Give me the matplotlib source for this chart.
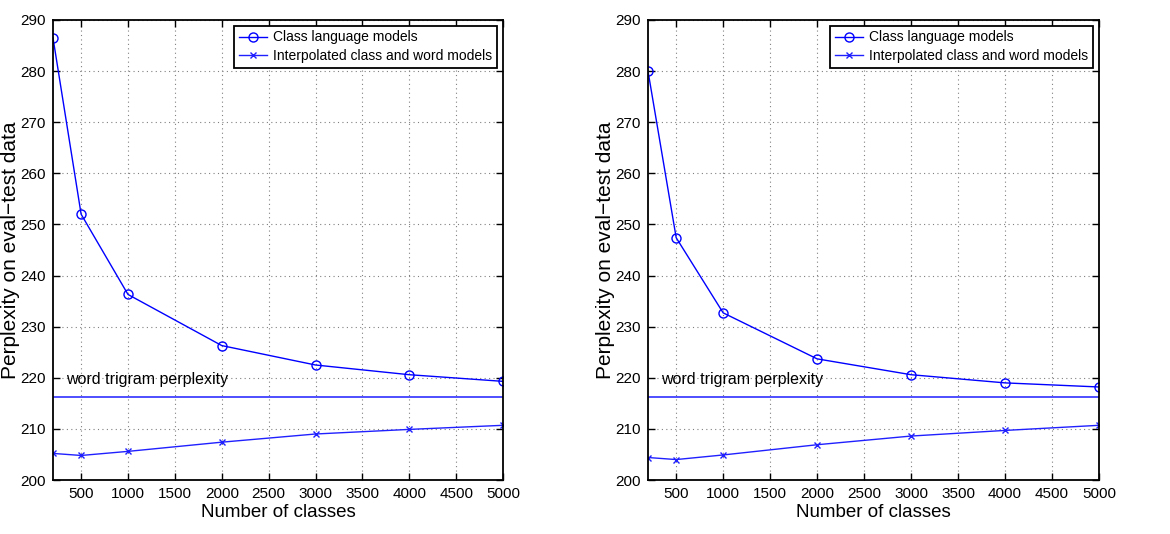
import matplotlib
matplotlib.use("Agg")
import matplotlib.pyplot as plt

plt.rcParams['font.family'] = ['Liberation Sans', 'DejaVu Sans']

classes = [200, 500, 1000, 2000, 3000, 4000, 5000]
class_lm_left = [286.5, 252.0, 236.3, 226.3, 222.5, 220.6, 219.3]
interp_left = [205.2, 204.8, 205.6, 207.4, 209.0, 209.9, 210.7]
class_lm_right = [280.0, 247.4, 232.7, 223.7, 220.6, 219.0, 218.2]
interp_right = [204.4, 204.0, 204.9, 206.9, 208.6, 209.7, 210.7]
trigram = [216.2, 216.2]

xticks = [500, 1000, 1500, 2000, 2500, 3000, 3500, 4000, 4500, 5000]
yticks = [200, 210, 220, 230, 240, 250, 260, 270, 280, 290]

fig = plt.figure(figsize=(11.7, 5.34), dpi=100)
ax1 = fig.add_axes([53/1170, 1 - 480/534, 450/1170, 460/534])
ax2 = fig.add_axes([648/1170, 1 - 480/534, 451/1170, 460/534])

for ax, cl, ip, tri in [(ax1, class_lm_left, interp_left, trigram),
                        (ax2, class_lm_right, interp_right, trigram)]:
    ax.plot(classes, cl, color="#0000ff", lw=1, marker="o", ms=6.5,
            mfc="none", mec="#0000ff", label="Class language models")
    ax.plot(classes, ip, color="#2020ff", lw=1, marker="x", ms=4.5,
            label="Interpolated class and word models")
    ax.plot([200, 5000], tri, color="#3030ff", lw=1.2)
    ax.text(340, 219.7, "word trigram perplexity", fontsize=11.5, va="center")
    ax.set_xlim(200, 5000)
    ax.set_ylim(200, 290)
    ax.set_xticks(xticks)
    ax.set_yticks(yticks)
    ax.grid(True, color="#808080", linestyle=(0, (1, 3)), lw=0.8)
    ax.tick_params(direction="in", labelsize=11, length=5, top=True, right=True,
                   width=1, pad=5)
    for s in ax.spines.values():
        s.set_linewidth(1.3)
    ax.set_xlabel("Number of classes", fontsize=13.5, labelpad=2)
    ax.set_ylabel("Perplexity on eval\u2212test data", fontsize=15)
    ax.yaxis.set_label_coords(-0.073, 0.5)
    leg = ax.legend(loc="upper right", fontsize=10, fancybox=False,
                    framealpha=1, edgecolor="black", borderaxespad=0.4,
                    handlelength=2.0, labelspacing=0.35, borderpad=0.35,
                    handletextpad=0.5)
    leg.get_frame().set_linewidth(1.3)

fig.savefig("out.png", dpi=100)
